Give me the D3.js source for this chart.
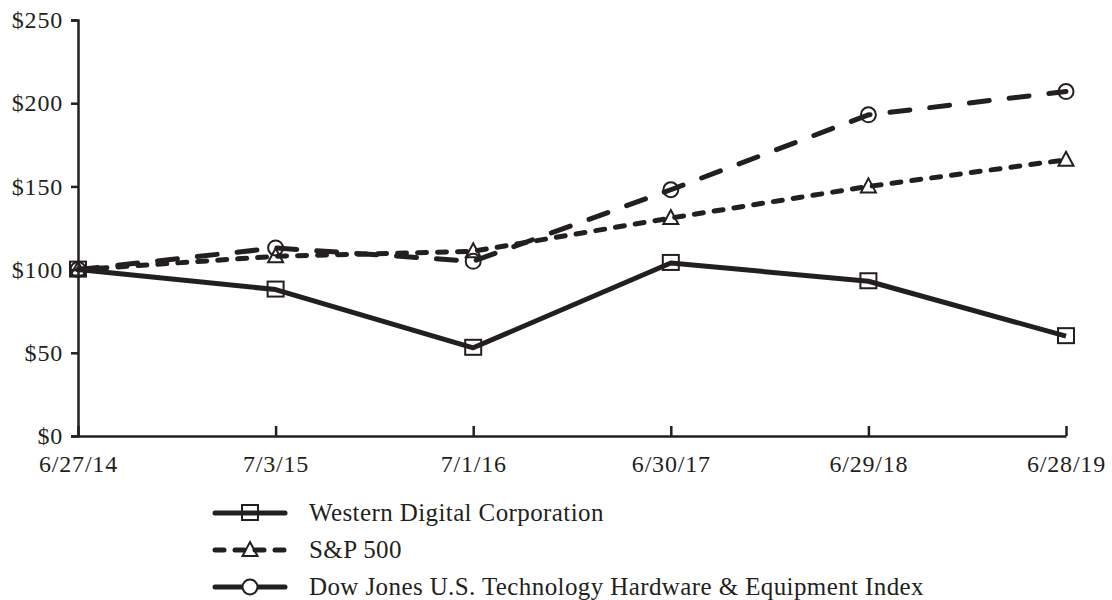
<!DOCTYPE html>
<html>
<head>
<meta charset="utf-8">
<script src="https://d3js.org/d3.v7.min.js"></script>
<style>
  body { margin: 0; background: #fff; }
  svg { font-family: "Liberation Serif", "DejaVu Serif", serif; }
</style>
</head>
<body>
<script>
const dates = ['6/27/14', '7/3/15', '7/1/16', '6/30/17', '6/29/18', '6/28/19'];
const wdc = [100, 88, 53, 104, 93, 60];
const sp500 = [100, 108, 111, 131, 150, 166];
const dowJones = [100, 113, 105, 148, 193, 207];
const yTicks = [0, 50, 100, 150, 200, 250];

const series = [
  {name: 'Western Digital Corporation', values: wdc, dash: null, marker: 'square'},
  {name: 'S&P 500', values: sp500, dash: '9,11', marker: 'triangle'},
  {name: 'Dow Jones U.S. Technology Hardware & Equipment Index', values: dowJones, dash: '20,20', marker: 'circle'}
];

const ink = '#231f20';
const width = 1112, height = 600;
const svg = d3.select('body').append('svg').attr('width', width).attr('height', height);

const x = d3.scalePoint().domain(dates).range([78, 1066]);
const y = d3.scaleLinear().domain([0, 250]).range([436, 20]);

// y axis
const yAxis = svg.append('g')
  .attr('transform', 'translate(78,0)')
  .call(d3.axisLeft(y).tickValues(yTicks).tickSize(7).tickPadding(8).tickFormat(d => '$' + d));
yAxis.select('.domain').attr('stroke', ink).attr('stroke-width', 2.5);
yAxis.selectAll('.tick line').attr('stroke', ink).attr('stroke-width', 2.5);
yAxis.selectAll('.tick text').attr('fill', ink).style('font-size', '24px')
  .style('letter-spacing', '0.8px')
  .style('font-family', '"Liberation Serif", serif');

// x axis, ticks pointing up
const xAxis = svg.append('g')
  .attr('transform', 'translate(0,436)')
  .call(d3.axisBottom(x).tickSizeInner(-10).tickSizeOuter(0).tickPadding(19));
xAxis.select('.domain').attr('stroke', ink).attr('stroke-width', 2.5);
xAxis.selectAll('.tick line').attr('stroke', ink).attr('stroke-width', 2.5);
xAxis.selectAll('.tick text').attr('fill', ink).style('font-size', '24px')
  .style('letter-spacing', '0.8px')
  .style('font-family', '"Liberation Serif", serif');

const line = d3.line().x((d, i) => x(dates[i])).y(d => y(d));

function drawMarker(g, type, cx, cy) {
  if (type === 'square') {
    g.append('rect').attr('x', cx - 8).attr('y', cy - 8).attr('width', 16).attr('height', 15)
      .attr('fill', 'none').attr('stroke', ink).attr('stroke-width', 2);
  } else if (type === 'triangle') {
    g.append('path').attr('d', `M${cx},${cy - 8}L${cx + 7.5},${cy + 6}L${cx - 7.5},${cy + 6}Z`)
      .attr('fill', 'none').attr('stroke', ink).attr('stroke-width', 2);
  } else {
    g.append('circle').attr('cx', cx).attr('cy', cy).attr('r', 7.5)
      .attr('fill', 'none').attr('stroke', ink).attr('stroke-width', 2);
  }
}

const plot = svg.append('g');
series.slice().reverse().forEach(s => {
  plot.append('path')
    .attr('d', line(s.values))
    .attr('fill', 'none')
    .attr('stroke', ink)
    .attr('stroke-width', 5)
    .attr('stroke-linecap', s.dash ? 'round' : 'butt')
    .attr('stroke-linejoin', 'round')
    .attr('stroke-dasharray', s.dash);
  s.values.forEach((v, i) => drawMarker(plot, s.marker, x(dates[i]), y(v)));
});

// legend
const legend = svg.append('g');
series.forEach((s, i) => {
  const ly = 513 + i * 37;
  const g = legend.append('g');
  g.append('line').attr('x1', 215).attr('x2', 285).attr('y1', ly).attr('y2', ly)
    .attr('stroke', ink).attr('stroke-width', 5)
    .attr('stroke-linecap', 'round')
    .attr('stroke-dasharray', i === 1 ? '9,11' : null);
  if (s.marker === 'circle') {
    g.append('circle').attr('cx', 250).attr('cy', ly).attr('r', 7.5).attr('fill', '#fff')
      .attr('stroke', ink).attr('stroke-width', 2);
  } else {
    drawMarker(g, s.marker, 250, ly);
  }
  g.append('text').attr('x', 309).attr('y', ly).attr('dy', '0.33em')
    .attr('fill', ink).style('font-size', '25px').style('letter-spacing', '0.4px').text(s.name);
});
</script>
</body>
</html>
